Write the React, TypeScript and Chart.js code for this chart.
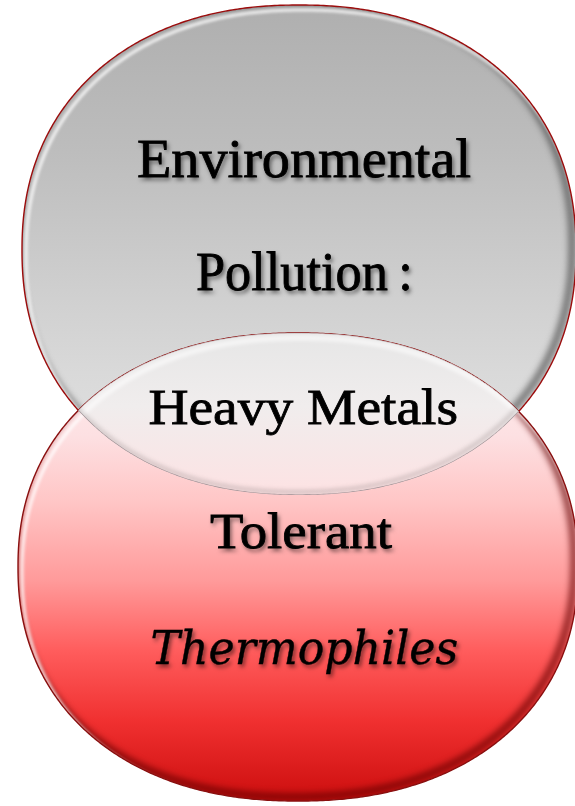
import React, { useEffect, useRef } from "react";
import { Chart, registerables } from "chart.js";
Chart.register(...registerables);

// Venn sets (data units = page units of the diagram)
const setNames = ["Environmental Pollution", "Heavy Metals Tolerant Thermophiles"];
const centerX = [299, 298];
const centerY = [250, 567];
const radiusX = [277, 280];
const radiusY = [245, 234];
const shapeExponent = [2.2, 2.2];

// Text lines
const labelLines = ["Environmental", "Pollution\u2009:", "Heavy Metals", "Tolerant", "Thermophiles"];
const labelX = [304, 303, 303, 301, 305];
const labelY = [177, 290, 424, 548, 664];
const labelInkWidth = [332, 212, 307, 182, 305];
const labelSize = [54, 54, 50, 50, 46];
const labelItalic = [false, false, false, false, true];
const labelShadow = [true, true, false, true, true];

function shapePath(ctx: CanvasRenderingContext2D, cx: number, cy: number, a: number, b: number, n: number, dx = 0, dy = 0) {
  ctx.beginPath();
  const N = 720;
  for (let i = 0; i <= N; i++) {
    const t = (i / N) * Math.PI * 2;
    const c = Math.cos(t), s = Math.sin(t);
    const x = cx + dx + a * Math.sign(c) * Math.pow(Math.abs(c), 2 / n);
    const y = cy + dy + b * Math.sign(s) * Math.pow(Math.abs(s), 2 / n);
    if (i === 0) ctx.moveTo(x, y); else ctx.lineTo(x, y);
  }
  ctx.closePath();
}

const vennPlugin = {
  id: "venn",
  afterDatasetsDraw(chart: any) {
    const ctx: CanvasRenderingContext2D = chart.ctx;
    const xs = chart.scales.x, ys = chart.scales.y;
    const geo = centerX.map((_, i) => {
      const cx = xs.getPixelForValue(centerX[i]);
      const cy = ys.getPixelForValue(centerY[i]);
      const a = Math.abs(xs.getPixelForValue(centerX[i] + radiusX[i]) - cx);
      const b = Math.abs(ys.getPixelForValue(centerY[i] + radiusY[i]) - cy);
      return { cx, cy, a, b, n: shapeExponent[i] };
    });
    const path = (i: number, dx = 0, dy = 0) => { const g = geo[i]; shapePath(ctx, g.cx, g.cy, g.a, g.b, g.n, dx, dy); };

    const fills = [
      [[0, "#afafaf"], [0.3, "#bdbdbd"], [0.6, "#d0d0d0"], [0.75, "#d9d9d9"], [1, "#e4e4e4"]],
      [[0, "#fff2f2"], [0.22, "#fde0e2"], [0.36, "#ffc6c6"], [0.53, "#ff9a9a"], [0.68, "#ff5c5c"], [0.83, "#f03030"], [1, "#cc0e0e"]],
    ];
    const edgeColors = ["#9c0c0c", "#8a1010"];
    const shadowColors = ["rgba(70,70,70,0.7)", "rgba(100,0,0,0.7)"];

    for (let i = 0; i < 2; i++) {
      const g = geo[i];
      const grad = ctx.createLinearGradient(0, g.cy - g.b, 0, g.cy + g.b);
      (fills[i] as any[]).forEach(([o, c]) => grad.addColorStop(o, c));
      ctx.save();
      path(i);
      ctx.fillStyle = grad;
      ctx.fill();
      // inner bevel
      ctx.clip();
      ctx.filter = "blur(3px)";
      ctx.lineWidth = 7;
      ctx.strokeStyle = shadowColors[i];
      path(i, -4, -4);
      ctx.stroke();
      ctx.filter = "blur(1.5px)";
      ctx.strokeStyle = "rgba(255,255,255,0.85)";
      ctx.lineWidth = 3;
      path(i, 4, 5);
      ctx.stroke();
      ctx.filter = "none";
      ctx.restore();
      ctx.save();
      path(i);
      ctx.lineWidth = 1.4;
      ctx.strokeStyle = edgeColors[i];
      ctx.stroke();
      ctx.restore();
    }

    // overlap region
    ctx.save();
    path(0);
    ctx.clip();
    path(1);
    ctx.clip();
    const top = geo[1].cy - geo[1].b;
    const bot = geo[0].cy + geo[0].b;
    const og = ctx.createLinearGradient(0, top, 0, bot);
    og.addColorStop(0, "#e6e6e6");
    og.addColorStop(0.45, "#f0eded");
    og.addColorStop(1, "#fde2e3");
    ctx.fillStyle = og;
    ctx.fillRect(0, top, chart.width, bot - top);
    ctx.filter = "blur(2px)";
    ctx.strokeStyle = "rgba(255,255,255,0.8)";
    ctx.lineWidth = 4;
    path(1, 3, 5);
    ctx.stroke();
    ctx.strokeStyle = "rgba(120,110,110,0.3)";
    ctx.lineWidth = 4;
    path(0, -2, -3);
    ctx.stroke();
    ctx.filter = "none";
    ctx.strokeStyle = "rgba(150,135,140,0.9)";
    ctx.lineWidth = 1.2;
    path(0);
    ctx.stroke();
    ctx.strokeStyle = "rgba(190,180,182,0.9)";
    ctx.lineWidth = 1;
    path(1);
    ctx.stroke();
    ctx.restore();

    // labels
    labelLines.forEach((txt, i) => {
      const x = xs.getPixelForValue(labelX[i]);
      const y = ys.getPixelForValue(labelY[i]);
      const fam = labelItalic[i] ? `italic ${labelSize[i]}px "DejaVu Serif", serif` : `${labelSize[i]}px "Liberation Serif", serif`;
      ctx.save();
      ctx.font = fam;
      ctx.textAlign = "left";
      ctx.textBaseline = "alphabetic";
      const m = ctx.measureText(txt);
      const inkL = -m.actualBoundingBoxLeft;
      const inkR = m.actualBoundingBoxRight;
      const sx = labelInkWidth[i] / (inkR - inkL);
      ctx.translate(x, y);
      ctx.scale(sx, 1);
      ctx.fillStyle = "#000";
      if (labelShadow[i]) {
        ctx.shadowColor = "rgba(0,0,0,0.55)";
        ctx.shadowOffsetX = 2;
        ctx.shadowOffsetY = 3;
        ctx.shadowBlur = 4;
      }
      const tx = -(inkL + inkR) / 2;
      ctx.fillText(txt, tx, 0);
      ctx.shadowColor = "transparent";
      ctx.lineWidth = labelItalic[i] ? 0.4 : 0.8;
      ctx.strokeStyle = "#000";
      ctx.strokeText(txt, tx, 0);
      ctx.restore();
    });
  },
};

export default function App() {
  const ref = useRef<HTMLCanvasElement | null>(null);
  useEffect(() => {
    if (!ref.current) return;
    const chart = new Chart(ref.current, {
      type: "scatter",
      data: {
        datasets: setNames.map((name, i) => ({
          label: name,
          data: [{ x: centerX[i], y: centerY[i] }],
          pointRadius: 0,
        })),
      },
      options: {
        animation: false,
        responsive: false,
        layout: { padding: 0 },
        scales: {
          x: { type: "linear", min: 0, max: 575, display: false },
          y: { type: "linear", min: 0, max: 806, reverse: true, display: false },
        },
        plugins: { legend: { display: false }, tooltip: { enabled: false } },
      },
      plugins: [vennPlugin],
    });
    return () => chart.destroy();
  }, []);
  return (
    <div style={{ position: "absolute", left: 0, top: 0, width: 575, height: 806, background: "#fff" }}>
      <canvas ref={ref} width={575} height={806} />
    </div>
  );
}
